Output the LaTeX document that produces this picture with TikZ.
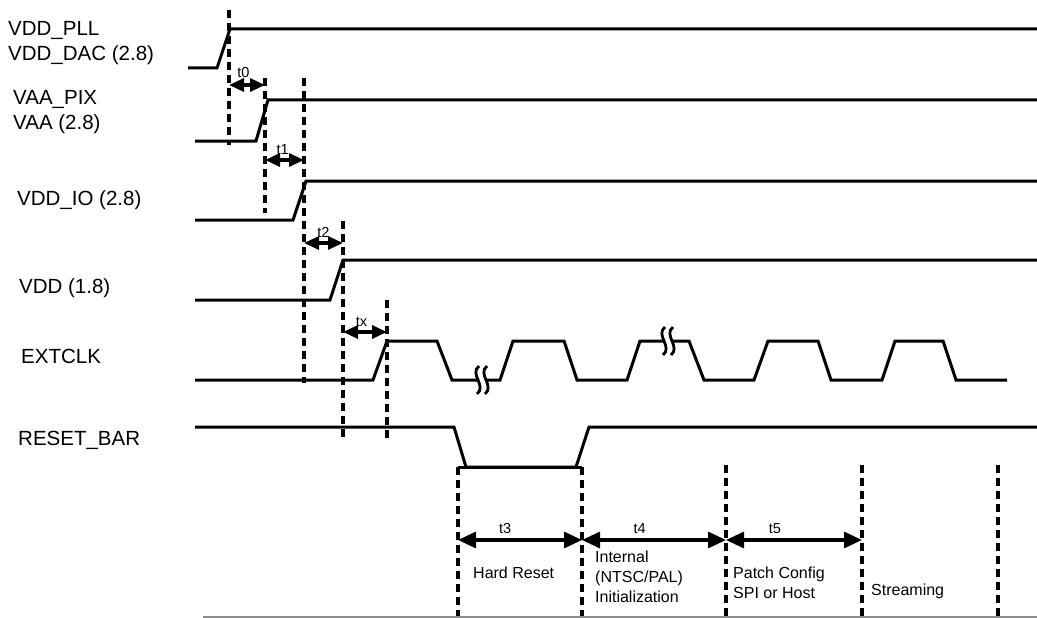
\documentclass[tikz,border=0pt]{standalone}
\usepackage{fontspec}
\setmainfont{Liberation Sans}
\usepackage{tikz}
\usepackage{xcolor}
\usetikzlibrary{arrows.meta,positioning,calc}
\definecolor{Ink}{HTML}{000000}
\definecolor{Rule}{HTML}{8C8C8C}
\tikzset{
  wave/.style={draw=Ink,line width=3pt,line join=miter},
  marker/.style={draw=Ink,line width=3.2pt,dash pattern=on 8pt off 5pt},
  smallarr/.style={{Triangle[length=15pt,width=13pt]}-{Triangle[length=15pt,width=13pt]},draw=Ink,line width=3.2pt},
  dimarr/.style={{Triangle[length=18pt,width=16pt]}-{Triangle[length=18pt,width=16pt]},draw=Ink,line width=3.2pt},
  siglabel/.style={anchor=west,align=left,inner sep=0pt,font=\fontsize{20.5}{25}\selectfont,text=Ink},
  phase/.style={anchor=west,align=left,inner sep=0pt,font=\fontsize{16}{20}\selectfont,text=Ink},
  tlabel/.style={inner sep=1pt,font=\fontsize{14.5}{16}\selectfont,text=Ink},
  brk/.style={draw=Ink,line width=2.8pt}
}
\newcommand{\clkbreak}[2]{%
  \draw[brk] ({#1-3},{#2-14}) .. controls ({#1-13},{#2-6}) and ({#1+5},{#2+6}) .. ({#1-5},{#2+14});
  \draw[brk] ({#1+5},{#2-14}) .. controls ({#1-5},{#2-6}) and ({#1+13},{#2+6}) .. ({#1+3},{#2+14});}

\begin{document}
\begin{tikzpicture}[x=1pt,y=-1pt]
  \useasboundingbox (0,0) rectangle (1037,618);
  % signal names
  \node[siglabel] (pll) at (8,43.5) {VDD\_PLL\\VDD\_DAC (2.8)};
  \node[siglabel] (vaa) at (13,112.5) {VAA\_PIX\\VAA (2.8)};
  \node[siglabel] (vio) at (17,200) {VDD\_IO (2.8)};
  \node[siglabel] (vdd) at (19,288) {VDD (1.8)};
  \node[siglabel] (clk) at (21,356) {EXTCLK};
  \node[siglabel] (rst) at (18,440) {RESET\_BAR};
  % supplies
  \draw[wave] (188,68) -- (217,68) -- (230,29) -- (1037,29);
  \draw[wave] (195,141) -- (256,141) -- (268,100) -- (1037,100);
  \draw[wave] (195,220) -- (293,220) -- (306,181) -- (1037,181);
  \draw[wave] (195,300) -- (330,300) -- (343,260) -- (1037,260);
  % clock
  \draw[wave] (195,380) -- (373,380) -- (387,341) -- (437,341) -- (452,380) -- (479,380);
  \draw[wave] (485,380) -- (500,380) -- (513,341) -- (564,341) -- (577,380) -- (627,380)
    -- (640,341) -- (665,341);
  \draw[wave] (671,341) -- (689,341) -- (704,380) -- (754,380) -- (768,341) -- (818,341)
    -- (831,380) -- (882,380) -- (895,341) -- (943,341) -- (956,380) -- (1007,380);
  \clkbreak{482}{380}
  \clkbreak{668}{341}
  % reset
  \draw[wave] (195,427) -- (454,427) -- (466,467) -- (576,467) -- (589,427) -- (1037,427);
  \draw[wave] (458,467) -- (582,467);
  % markers
  \draw[marker] (229,10) -- (229,145);
  \draw[marker] (265,78) -- (265,213);
  \draw[marker] (304,78) -- (304,383);
  \draw[marker] (343,221) -- (343,440);
  \draw[marker] (387,300) -- (387,440);
  \foreach \mx/\my in {458/467,582/467,726/465,862/465,998/465}
    \draw[marker] (\mx,\my) -- (\mx,618);
  % power-up intervals
  \coordinate (t0a) at (229,85);  \coordinate (t0b) at (265,85);
  \coordinate (t1a) at (265,160); \coordinate (t1b) at (304,160);
  \coordinate (t2a) at (304,243); \coordinate (t2b) at (343,243);
  \coordinate (txa) at (343,332); \coordinate (txb) at (387,332);
  \draw[smallarr] (t0a) -- node[tlabel,above=5pt,pos=0.4] {t0} (t0b);
  \draw[smallarr] (t1a) -- node[tlabel,above=3pt,pos=0.45] {t1} (t1b);
  \draw[smallarr] (t2a) -- node[tlabel,above=3pt,pos=0.5] {t2} (t2b);
  \draw[smallarr] (txa) -- node[tlabel,above=3pt,pos=0.42] {tx} (txb);
  % phases
  \coordinate (t3a) at (458,540); \coordinate (t3b) at (582,540);
  \coordinate (t4a) at (582,540); \coordinate (t4b) at (726,540);
  \coordinate (t5a) at (726,540); \coordinate (t5b) at (862,540);
  \draw[dimarr] (t3a) -- node[tlabel,above=4pt,pos=0.38] {t3} (t3b);
  \draw[dimarr] (t4a) -- node[tlabel,above=4pt,pos=0.4] {t4} (t4b);
  \draw[dimarr] (t5a) -- node[tlabel,above=4pt,pos=0.36] {t5} (t5b);
  \node[phase] (hard) at (473,573) {Hard Reset};
  \node[phase] (init) at (595,577) {Internal\\(NTSC/PAL)\\Initialization};
  \node[phase] (patch) at (733,583) {Patch Config\\SPI or Host};
  \node[phase] (strm) at (871,591) {Streaming};
  \draw[Rule,line width=2pt] (203,617) -- (1037,617);
\end{tikzpicture}
\end{document}
